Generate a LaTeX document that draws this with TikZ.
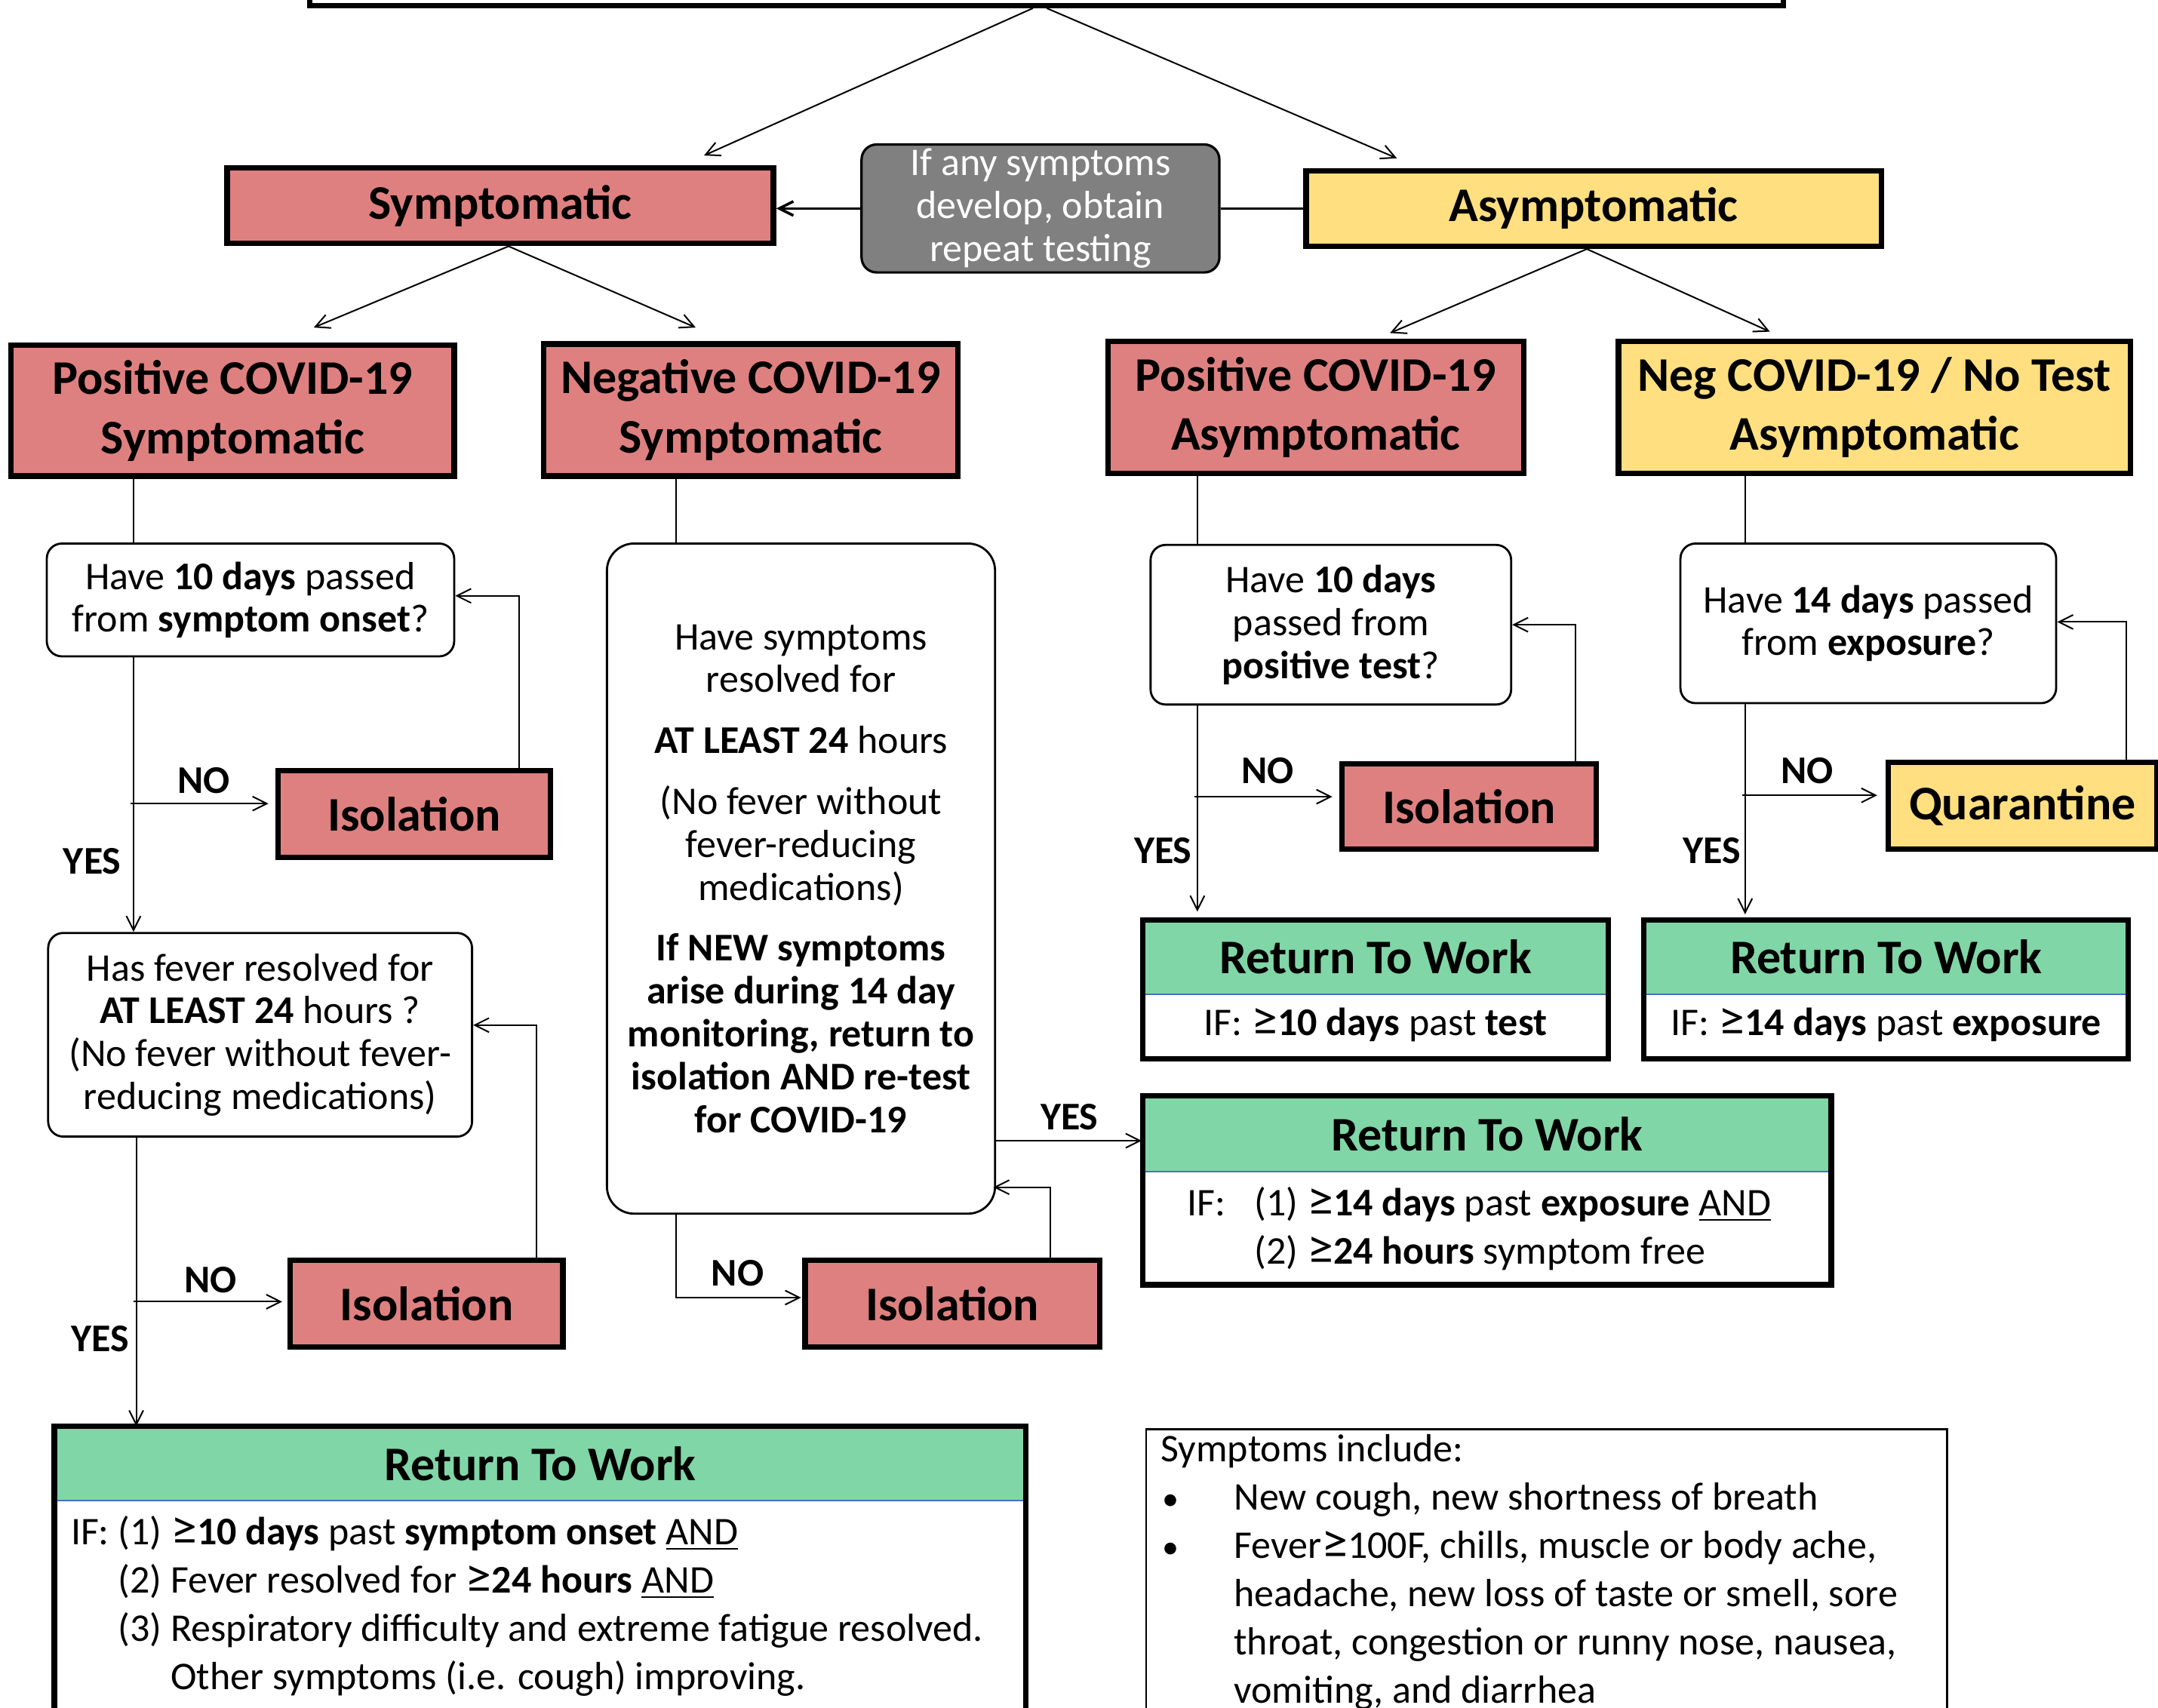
\documentclass[tikz,border=0pt]{standalone}
\usepackage{fontspec}
\setmainfont{Carlito}
\usetikzlibrary{arrows.meta,calc}

\definecolor{symred}{RGB}{223,128,128}
\definecolor{asyyellow}{RGB}{255,223,128}
\definecolor{rtwgreen}{RGB}{128,214,166}
\definecolor{hintgray}{RGB}{128,128,128}
\definecolor{divblue}{RGB}{68,114,196}

\newcommand{\hdfont}{\fontsize{16}{19.6}\selectfont\bfseries}
\newcommand{\qfont}{\fontsize{13}{14.2}\selectfont}
\newcommand{\lfont}{\fontsize{13}{16}\selectfont}
\newcommand{\ynfont}{\fontsize{13}{15}\selectfont\bfseries}
\newcommand{\atleast}{\scalebox{1.35}[1.25]{≥}}

\tikzset{every picture/.style={line width=0.5pt}}
\tikzset{
  boxsize/.style 2 args={minimum width=#1*0.456pt, minimum height=#2*0.456pt},
  catbox/.style={draw, line width=1.8pt, inner sep=0pt, align=center, font=\hdfont},
  redbox/.style={catbox, fill=symred},
  yelbox/.style={catbox, fill=asyyellow},
  askbox/.style={draw, line width=0.7pt, rounded corners=5pt, inner sep=0pt, align=center, font=\qfont},
  hintbox/.style={draw, line width=0.8pt, rounded corners=5pt, fill=hintgray, text=white, inner sep=0pt, align=center, font=\qfont},
  rtwhead/.style={fill=rtwgreen, inner sep=0pt, font=\hdfont},
  rtwbody/.style={fill=white, inner sep=0pt},
  rtwframe/.style={draw, line width=1.8pt},
  rtwline/.style={draw=divblue, line width=0.6pt},
  flow/.style={-{Straight Barb[length=4.7pt,width=4.7pt]}, line width=0.5pt},
  yn/.style={font=\ynfont, inner sep=0pt},
  note/.style={font=\lfont, align=left, inner sep=0pt, anchor=north west},
}

\begin{document}
\begin{tikzpicture}[x=0.456pt,y=0.456pt,yscale=-1,xscale=1]
\useasboundingbox (0,0) rectangle (1568,1241);

% top box, cut off by the page edge
\node[draw, line width=1.8pt, boxsize={1071}{64}] (top) at (760.5,-28) {};

% first split
\node[redbox, boxsize={397}{55}] (sym) at (363.5,149.5) {Symptomatic};
\node[hintbox, boxsize={260}{93}] (hint) at (756,151.5) {If any symptoms\\develop, obtain\\repeat testing};
\node[yelbox, boxsize={418}{55}] (asym) at (1158,151.5) {Asymptomatic};

% second split
\node[redbox, boxsize={322}{95}] (posS) at (169,298.5) {Positive COVID-19\\Symptomatic};
\node[redbox, boxsize={301}{96}] (negS) at (545.5,298) {Negative COVID-19\\Symptomatic};
\node[redbox, boxsize={302}{96}] (posA) at (956,296) {Positive COVID-19\\Asymptomatic};
\node[yelbox, boxsize={372}{96}] (negA) at (1362,296) {Neg COVID-19 / No Test\\Asymptomatic};

% questions
\node[askbox, boxsize={296}{82}] (q1) at (182,436) {Have \textbf{10 days} passed\\from \textbf{symptom onset}?};
\node[askbox, boxsize={308}{148}] (q2) at (189,752) {Has fever resolved for\\\textbf{AT LEAST 24} hours ?\\(No fever without fever-\\reducing medications)};
\node[askbox, rounded corners=9pt, boxsize={282}{487}] (q3) at (582,638.5) {Have symptoms\\resolved for\\[6pt]\textbf{AT LEAST 24} hours\\[6pt](No fever without\\fever-reducing\\medications)\\[6pt]\textbf{If NEW symptoms}\\\textbf{arise during 14 day}\\\textbf{monitoring, return to}\\\textbf{isolation AND re-test}\\\textbf{for COVID-19}};
\node[askbox, boxsize={262}{116}] (q4) at (967,454) {Have \textbf{10 days}\\passed from\\\textbf{positive test}?};
\node[askbox, boxsize={273}{116}] (q5) at (1357.5,453) {Have \textbf{14 days} passed\\from \textbf{exposure}?};

% isolation / quarantine
\node[redbox, boxsize={198}{63}] (iso1) at (301,591.5) {Isolation};
\node[redbox, boxsize={198}{63}] (iso2) at (310,947.5) {Isolation};
\node[redbox, boxsize={214}{63}] (iso3) at (692,947.5) {Isolation};
\node[redbox, boxsize={185}{62}] (iso4) at (1067.5,586) {Isolation};
\node[yelbox, boxsize={195}{63}] (quar) at (1469.5,585.5) {Quarantine};

% return to work boxes
\node[rtwhead, boxsize={705}{53}] (rtw1h) at (392.5,1063.5) {Return To Work};
\node[rtwbody, boxsize={705}{180}, anchor=north] (rtw1b) at (rtw1h.south) {};
\node[rtwhead, boxsize={499}{54}] (rtw3h) at (1080.5,824) {Return To Work};
\node[rtwbody, boxsize={499}{81}, anchor=north] (rtw3b) at (rtw3h.south) {};
\node[rtwhead, boxsize={337}{53}] (rtw4h) at (999.5,695.5) {Return To Work};
\node[rtwbody, boxsize={337}{46}, anchor=north] (rtw4b) at (rtw4h.south) {};
\node[rtwhead, boxsize={351}{53}] (rtw5h) at (1370.5,695.5) {Return To Work};
\node[rtwbody, boxsize={351}{46}, anchor=north] (rtw5b) at (rtw5h.south) {};
\foreach \r in {rtw1,rtw3,rtw4,rtw5} {
  \draw[rtwline] (\r h.south west) -- (\r h.south east);
  \draw[rtwframe] (\r h.north west) rectangle (\r b.south east);
}

% return to work conditions
\node[note] (rtw1t) at (51,1101) {IF: (1) \atleast\textbf{10 days} past \textbf{symptom onset} \underline{AND}\\
\phantom{IF: }(2) Fever resolved for \atleast\textbf{24 hours} \underline{AND}\\
\phantom{IF: }(3) Respiratory difficulty and extreme fatigue resolved.\\
\phantom{IF: (3) }Other symptoms (i.e. cough) improving.};
\node[note] (rtw3t) at (862,862) {\makebox[22.3pt][l]{IF:}(1) \atleast\textbf{14 days} past \textbf{exposure} \underline{AND}\\
\hspace*{22.3pt}(2) \atleast\textbf{24 hours} symptom free};
\node[font=\lfont, inner sep=0pt] (rtw4t) at (999.5,745) {IF: \atleast\textbf{10 days} past \textbf{test}};
\node[font=\lfont, inner sep=0pt] (rtw5t) at (1370.5,745) {IF: \atleast\textbf{14 days} past \textbf{exposure}};

% symptoms list
\node[draw, line width=0.6pt, boxsize={582}{240}, anchor=north west] (symlist) at (832,1038) {};
\node[note] (symtext) at (843,1042) {Symptoms include:\\
\makebox[24.2pt][l]{\hspace{0.5pt}\scalebox{0.85}{•}}New cough, new shortness of breath\\
\makebox[24.2pt][l]{\hspace{0.5pt}\scalebox{0.85}{•}}Fever\atleast100F, chills, muscle or body ache,\\
\hspace*{24.2pt}headache, new loss of taste or smell, sore\\
\hspace*{24.2pt}throat, congestion or runny nose, nausea,\\
\hspace*{24.2pt}vomiting, and diarrhea};

% column lines
\coordinate (colA) at (97,0);
\coordinate (colB) at (99,0);
\coordinate (colC) at (491,0);
\coordinate (colD) at (870,0);
\coordinate (colE) at (1268,0);

% top connectors
\draw[flow] ($(top.south)+(-10,0)$) -- ($(sym.north)+(148,-7)$);
\draw[flow] (top.south) -- ($(asym.north)+(-143,-7)$);
\draw[flow, line width=0.9pt] (hint.west) -- (hint.west -| sym.east);
\draw[line width=0.9pt] (asym.west) -- (asym.west -| hint.east);
\draw[flow] ($(sym.south)+(6,0)$) -- ($(posS.north)+(59,-11)$);
\draw[flow] ($(sym.south)+(6,0)$) -- ($(negS.north)+(-40,-10)$);
\draw[flow] ($(asym.south)+(-5,0)$) -- ($(posA.north)+(54,-4)$);
\draw[flow] ($(asym.south)+(-5,0)$) -- ($(negA.north)+(-76,-5)$);

% positive symptomatic
\draw (posS.south -| colA) -- (q1.north -| colA);
\draw[flow] (q1.south -| colA) -- (q2.north -| colA);
\draw[flow] ($(iso1.west)+(-105,-7.5)$) -- ($(iso1.west)+(-5,-7.5)$);
\draw[flow] ($(iso1.north east)+(-25,0)$) |- ($(q1.east)+(0,-3)$);
\draw[flow] (q2.south -| colB) -- (rtw1h.north -| colB);
\draw[flow] ($(iso2.west)+(-112,-1.5)$) -- ($(iso2.west)+(-4,-1.5)$);
\draw[flow] ($(iso2.north east)+(-21,0)$) |- ($(q2.east)+(0,-7)$);
\node[yn] (no1) at (148,567) {NO};
\node[yn] (yes1) at (67,626) {YES};
\node[yn] (no2) at (153,930) {NO};
\node[yn] (yes2) at (73,973) {YES};

% negative symptomatic
\draw (negS.south -| colC) -- (q3.north -| colC);
\draw[flow] ($(rtw3h.west)+(-108,5)$) -- ($(rtw3h.west)+(-1,5)$);
\draw[flow] (q3.south -| colC) |- ($(iso3.west)+(-1,-4.5)$);
\draw[flow] ($(iso3.north east)+(-38,0)$) |- ($(q3.south east)+(-2,-20)$);
\node[yn] (yes3) at (777,812) {YES};
\node[yn] (no3) at (536,925) {NO};

% positive asymptomatic
\draw (posA.south -| colD) -- (q4.north -| colD);
\draw[flow] (q4.south -| colD) -- ($(rtw4h.north -| colD)+(0,-6)$);
\draw[flow] ($(iso4.west)+(-105,-7)$) -- ($(iso4.west)+(-5,-7)$);
\draw[flow] ($(iso4.north east)+(-17,0)$) |- (q4.east);
\node[yn] (no4) at (921,560) {NO};
\node[yn] (yes4) at (845,618) {YES};

% negative / no test asymptomatic
\draw (negA.south -| colE) -- (q5.north -| colE);
\draw[flow] (q5.south -| colE) -- ($(rtw5h.north -| colE)+(0,-4)$);
\draw[flow] ($(quar.west)+(-104,-7.5)$) -- ($(quar.west)+(-6,-7.5)$);
\draw[flow] ($(quar.north east)+(-24,0)$) |- ($(q5.east)+(0,-1)$);
\node[yn] (no5) at (1313,560) {NO};
\node[yn] (yes5) at (1244,618) {YES};

\end{tikzpicture}
\end{document}
